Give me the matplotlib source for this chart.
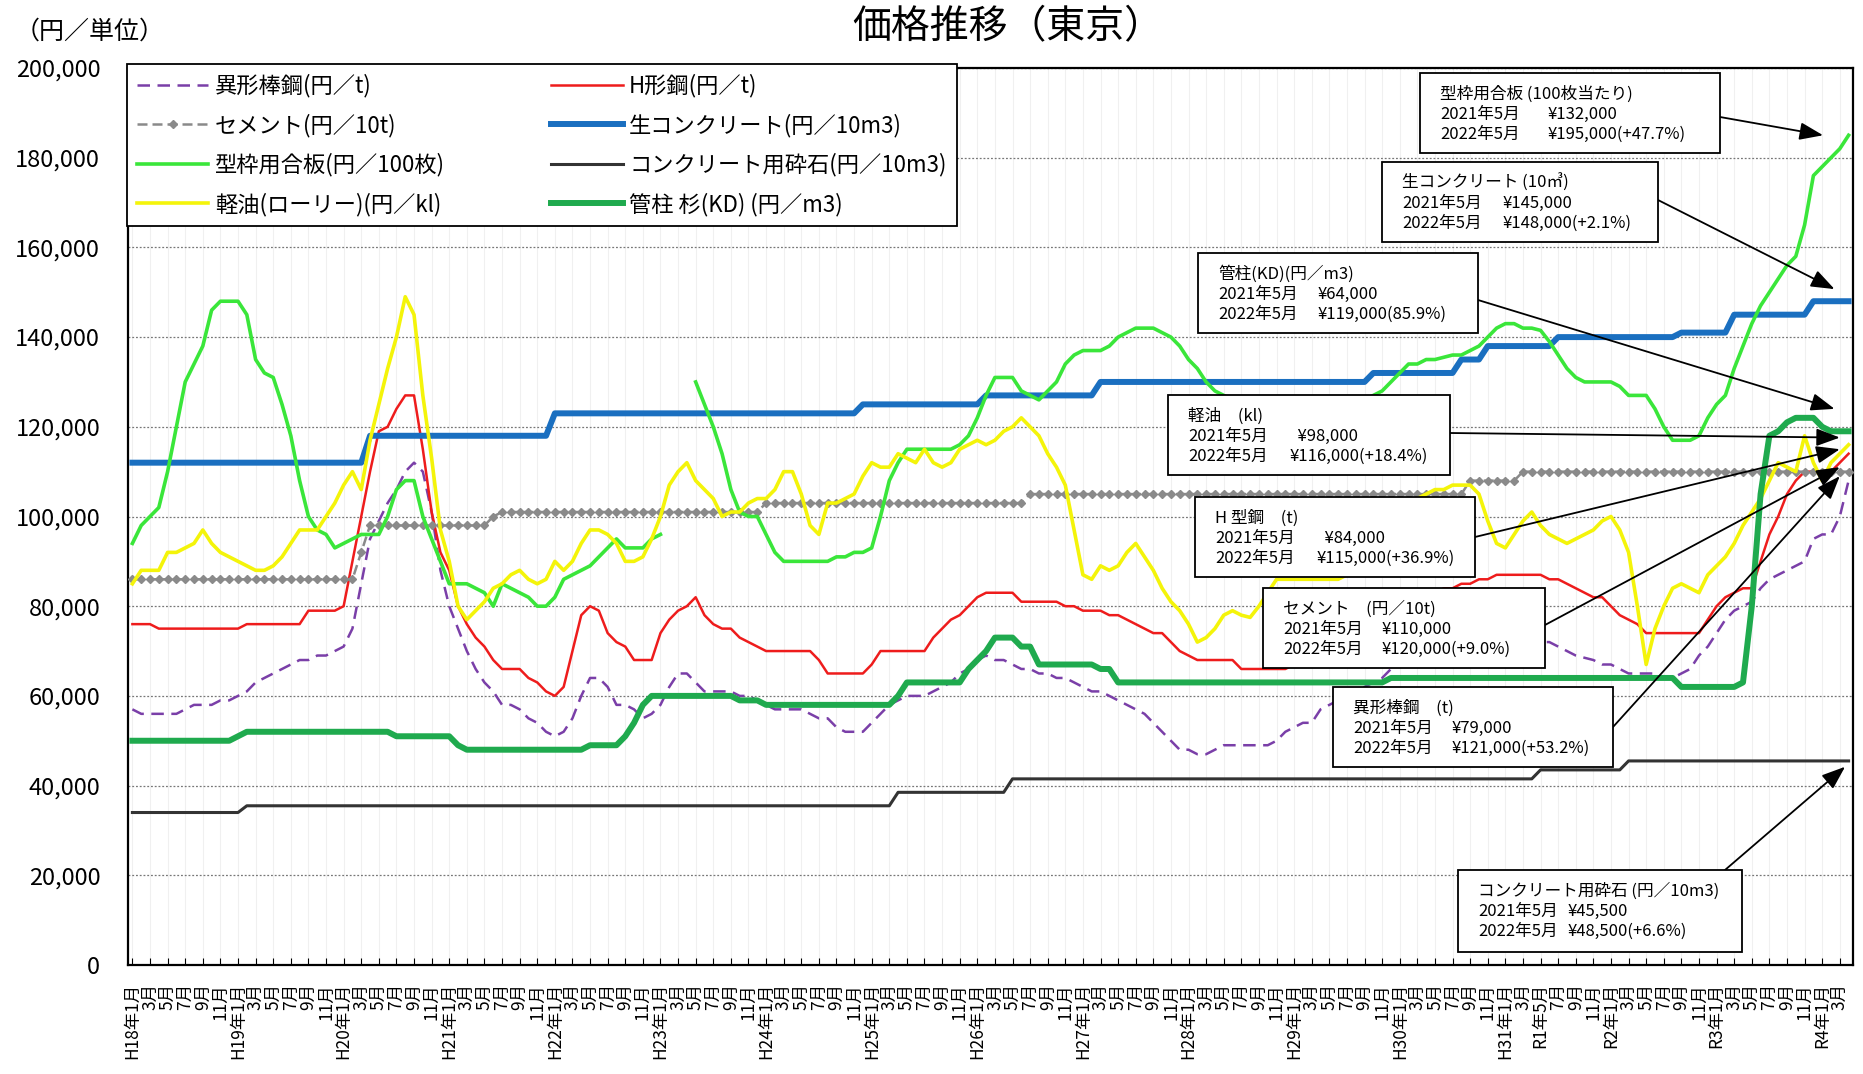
import matplotlib
matplotlib.use('Agg')
import matplotlib.pyplot as plt
import numpy as np
from matplotlib.patches import Rectangle
from matplotlib.lines import Line2D
from matplotlib.ticker import FuncFormatter, FixedLocator

plt.rcParams['font.family'] = ['Noto Sans CJK JP', 'DejaVu Sans']

W, H = 1863, 1074
nan = float('nan')

# ---------------- data (千円) : month index 0 = H18(2006)年1月 ... 195 = R4(2022)年4月
n_months = 196
months = np.arange(n_months)

def month_label(i):
    y = 2006 + i // 12
    m = i % 12 + 1
    if m == 1:
        era = f"H{y - 1988}" if y < 2020 else f"R{y - 2018}"
        return f"{era}年1月"
    if y == 2019 and m == 5:
        return "R1年5月"
    return f"{m}月"

tick_positions = list(range(0, n_months, 2))
tick_labels = [month_label(i) for i in tick_positions]

igata_k = [  # 異形棒鋼
    57, 56, 56, 56, 56, 56, 57, 58, 58, 58, 59, 59,
    60, 61, 63, 64, 65, 66, 67, 68, 68, 69, 69, 70,
    71, 75, 85, 95, 99, 103, 106, 110, 112, 110, 101, 88,
    80, 75, 70, 66, 63, 61, 58, 58, 57, 55, 54, 52,
    51, 52, 55, 60, 64, 64, 62, 58, 58, 57, 55, 56,
    58, 62, 65, 65, 63, 61, 61, 61, 61, 60, 60, 59,
    58, 57, 57, 57, 57, 56, 55, 55, 53, 52, 52, 52,
    54, 56, 58, 59, 60, 60, 60, 61, 62, 63, 65, 66,
    68, 69, 68, 68, 67, 66, 66, 65, 65, 64, 64, 63,
    62, 61, 61, 60, 59, 58, 57, 56, 54, 52, 50, 48,
    48, 47, 47, 48, 49, 49, 49, 49, 49, 49, 50, 52,
    53, 54, 54, 57, 58, 59, 60, 61, 62, 63, 64, 66,
    67, 68, 69, 70, 71, 72, 72, 73, 73, 74, 74, 74,
    74, 74, 73, 73, 72, 72, 71, 70, 69, 68.5, 68, 67,
    67, 66, 65, 65, 65, 65, 64, 64, 65, 66, 69, 71,
    74, 77, 79, 80, 81, 84, 86, 87, 88, 89, 90, 95,
    96, 96, 100, 108]

hkou_k = [  # H形鋼
    76, 76, 76, 75, 75, 75, 75, 75, 75, 75, 75, 75,
    75, 76, 76, 76, 76, 76, 76, 76, 79, 79, 79, 79,
    80, 90, 100, 110, 119, 120, 124, 127, 127, 115, 101, 92,
    88, 80, 76, 73, 71, 68, 66, 66, 66, 64, 63, 61,
    60, 62, 70, 78, 80, 79, 74, 72, 71, 68, 68, 68,
    74, 77, 79, 80, 82, 78, 76, 75, 75, 73, 72, 71,
    70, 70, 70, 70, 70, 70, 68, 65, 65, 65, 65, 65,
    67, 70, 70, 70, 70, 70, 70, 73, 75, 77, 78, 80,
    82, 83, 83, 83, 83, 81, 81, 81, 81, 81, 80, 80,
    79, 79, 79, 78, 78, 77, 76, 75, 74, 74, 72, 70,
    69, 68, 68, 68, 68, 68, 66, 66, 66, 66, 66, 66,
    67, 68, 69, 70, 71, 72, 73, 74, 75, 77, 78, 79,
    80, 81, 82, 83, 83, 84, 84, 85, 85, 86, 86, 87,
    87, 87, 87, 87, 87, 86, 86, 85, 84, 83, 82, 82,
    80, 78, 77, 76, 74, 74, 74, 74, 74, 74, 74, 77,
    80, 82, 83, 84, 84, 90, 96, 100, 105, 108, 110, 110,
    110, 110, 112, 114]

cement_k = [  # セメント
    86, 86, 86, 86, 86, 86, 86, 86, 86, 86, 86, 86,
    86, 86, 86, 86, 86, 86, 86, 86, 86, 86, 86, 86,
    86, 86, 92, 98, 98, 98, 98, 98, 98, 98, 98, 98,
    98, 98, 98, 98, 98, 100, 101, 101, 101, 101, 101, 101,
    101, 101, 101, 101, 101, 101, 101, 101, 101, 101, 101, 101,
    101, 101, 101, 101, 101, 101, 101, 101, 101, 101, 101, 101,
    103, 103, 103, 103, 103, 103, 103, 103, 103, 103, 103, 103,
    103, 103, 103, 103, 103, 103, 103, 103, 103, 103, 103, 103,
    103, 103, 103, 103, 103, 103, 105, 105, 105, 105, 105, 105,
    105, 105, 105, 105, 105, 105, 105, 105, 105, 105, 105, 105,
    105, 105, 105, 105, 105, 105, 105, 105, 105, 105, 105, 105,
    105, 105, 105, 105, 105, 105, 105, 105, 105, 105, 105, 105,
    105, 105, 105, 105, 105, 105, 105, 105, 108, 108, 108, 108,
    108, 108, 110, 110, 110, 110, 110, 110, 110, 110, 110, 110,
    110, 110, 110, 110, 110, 110, 110, 110, 110, 110, 110, 110,
    110, 110, 110, 110, 110, 110, 110, 110, 110, 110, 110, 110,
    110, 110, 110, 110]

namacon_k = [  # 生コンクリート
    112, 112, 112, 112, 112, 112, 112, 112, 112, 112, 112, 112,
    112, 112, 112, 112, 112, 112, 112, 112, 112, 112, 112, 112,
    112, 112, 112, 118, 118, 118, 118, 118, 118, 118, 118, 118,
    118, 118, 118, 118, 118, 118, 118, 118, 118, 118, 118, 118,
    123, 123, 123, 123, 123, 123, 123, 123, 123, 123, 123, 123,
    123, 123, 123, 123, 123, 123, 123, 123, 123, 123, 123, 123,
    123, 123, 123, 123, 123, 123, 123, 123, 123, 123, 123, 125,
    125, 125, 125, 125, 125, 125, 125, 125, 125, 125, 125, 125,
    125, 127, 127, 127, 127, 127, 127, 127, 127, 127, 127, 127,
    127, 127, 130, 130, 130, 130, 130, 130, 130, 130, 130, 130,
    130, 130, 130, 130, 130, 130, 130, 130, 130, 130, 130, 130,
    130, 130, 130, 130, 130, 130, 130, 130, 130, 132, 132, 132,
    132, 132, 132, 132, 132, 132, 132, 135, 135, 135, 138, 138,
    138, 138, 138, 138, 138, 138, 140, 140, 140, 140, 140, 140,
    140, 140, 140, 140, 140, 140, 140, 140, 141, 141, 141, 141,
    141, 141, 145, 145, 145, 145, 145, 145, 145, 145, 145, 148,
    148, 148, 148, 148]

kataban_k = [  # 型枠用合板
    94, 98, 100, 102, 110, 120, 130, 134, 138, 146, 148, 148,
    148, 145, 135, 132, 131, 125, 118, 108, 100, 97, 96, 93,
    94, 95, 96, 96, 96, 100, 106, 108, 108, 100, 95, 90,
    85, 85, 85, 84, 83, 80, 85, 84, 83, 82, 80, 80,
    82, 86, 87, 88, 89, 91, 93, 95, 93, 93, 93, 95,
    96, nan, nan, nan, 130, 125, 120, 114, 106, 101, 100, 100,
    96, 92, 90, 90, 90, 90, 90, 90, 91, 91, 92, 92,
    93, 100, 108, 112, 115, 115, 115, 115, 115, 115, 116, 118,
    122, 127, 131, 131, 131, 128, 127, 126, 128, 130, 134, 136,
    137, 137, 137, 138, 140, 141, 142, 142, 142, 141, 140, 138,
    135, 133, 130, 128, 127, 126, 125, 124, 124, 124, 124, 124,
    124, 124, 124, 124, 124, 125, 125, 126, 126, 127, 128, 130,
    132, 134, 134, 135, 135, 135.5, 136, 136, 137, 138, 140, 142,
    143, 143, 142, 142, 141.5, 139, 136, 133, 131, 130, 130, 130,
    130, 129, 127, 127, 127, 124, 120, 117, 117, 117, 118, 122,
    125, 127, 133, 138, 143, 147, 150, 153, 156, 158, 165, 176,
    178, 180, 182, 185]

saiseki_k = [  # コンクリート用砕石
    34, 34, 34, 34, 34, 34, 34, 34, 34, 34, 34, 34,
    34, 35.5, 35.5, 35.5, 35.5, 35.5, 35.5, 35.5, 35.5, 35.5, 35.5, 35.5,
    35.5, 35.5, 35.5, 35.5, 35.5, 35.5, 35.5, 35.5, 35.5, 35.5, 35.5, 35.5,
    35.5, 35.5, 35.5, 35.5, 35.5, 35.5, 35.5, 35.5, 35.5, 35.5, 35.5, 35.5,
    35.5, 35.5, 35.5, 35.5, 35.5, 35.5, 35.5, 35.5, 35.5, 35.5, 35.5, 35.5,
    35.5, 35.5, 35.5, 35.5, 35.5, 35.5, 35.5, 35.5, 35.5, 35.5, 35.5, 35.5,
    35.5, 35.5, 35.5, 35.5, 35.5, 35.5, 35.5, 35.5, 35.5, 35.5, 35.5, 35.5,
    35.5, 35.5, 35.5, 38.5, 38.5, 38.5, 38.5, 38.5, 38.5, 38.5, 38.5, 38.5,
    38.5, 38.5, 38.5, 38.5, 41.5, 41.5, 41.5, 41.5, 41.5, 41.5, 41.5, 41.5,
    41.5, 41.5, 41.5, 41.5, 41.5, 41.5, 41.5, 41.5, 41.5, 41.5, 41.5, 41.5,
    41.5, 41.5, 41.5, 41.5, 41.5, 41.5, 41.5, 41.5, 41.5, 41.5, 41.5, 41.5,
    41.5, 41.5, 41.5, 41.5, 41.5, 41.5, 41.5, 41.5, 41.5, 41.5, 41.5, 41.5,
    41.5, 41.5, 41.5, 41.5, 41.5, 41.5, 41.5, 41.5, 41.5, 41.5, 41.5, 41.5,
    41.5, 41.5, 41.5, 41.5, 43.5, 43.5, 43.5, 43.5, 43.5, 43.5, 43.5, 43.5,
    43.5, 43.5, 45.5, 45.5, 45.5, 45.5, 45.5, 45.5, 45.5, 45.5, 45.5, 45.5,
    45.5, 45.5, 45.5, 45.5, 45.5, 45.5, 45.5, 45.5, 45.5, 45.5, 45.5, 45.5,
    45.5, 45.5, 45.5, 45.5]

keiyu_k = [  # 軽油
    85, 88, 88, 88, 92, 92, 93, 94, 97, 94, 92, 91,
    90, 89, 88, 88, 89, 91, 94, 97, 97, 97, 100, 103,
    107, 110, 106, 117, 125, 133, 140, 149, 145, 127, 113, 97,
    90, 80, 77, 79, 81, 84, 85, 87, 88, 86, 85, 86,
    90, 88, 90, 94, 97, 97, 96, 94, 90, 90, 91, 95,
    100, 107, 110, 112, 108, 106, 104, 100, 101, 101, 103, 104,
    104, 106, 110, 110, 105, 98, 96, 103, 103, 104, 105, 109,
    112, 111, 111, 114, 113, 112, 115, 112, 111, 112, 115, 116,
    117, 116, 117, 119, 120, 122, 120, 118, 114, 111, 107, 97,
    87, 86, 89, 88, 89, 92, 94, 91, 88, 84, 81, 79,
    76, 72, 73, 75, 78, 79, 78, 77.5, 80, 83, 86, 86,
    86, 86, 86, 86, 86, 86, 87, 88, 90, 93, 96, 99,
    101, 103, 104, 105, 106, 106, 107, 107, 107, 105, 99, 94,
    93, 96, 99, 101, 98, 96, 95, 94, 95, 96, 97, 99,
    100, 97, 92, 80, 67, 75, 80, 84, 85, 84, 83, 87,
    89, 91, 94, 98, 101, 104, 108, 112, 111, 110, 118, 112,
    108, 112, 114, 116]

kanchu_k = [  # 管柱 杉(KD)
    50, 50, 50, 50, 50, 50, 50, 50, 50, 50, 50, 50,
    51, 52, 52, 52, 52, 52, 52, 52, 52, 52, 52, 52,
    52, 52, 52, 52, 52, 52, 51, 51, 51, 51, 51, 51,
    51, 49, 48, 48, 48, 48, 48, 48, 48, 48, 48, 48,
    48, 48, 48, 48, 49, 49, 49, 49, 51, 54, 58, 60,
    60, 60, 60, 60, 60, 60, 60, 60, 60, 59, 59, 59,
    58, 58, 58, 58, 58, 58, 58, 58, 58, 58, 58, 58,
    58, 58, 58, 60, 63, 63, 63, 63, 63, 63, 63, 66,
    68, 70, 73, 73, 73, 71, 71, 67, 67, 67, 67, 67,
    67, 67, 66, 66, 63, 63, 63, 63, 63, 63, 63, 63,
    63, 63, 63, 63, 63, 63, 63, 63, 63, 63, 63, 63,
    63, 63, 63, 63, 63, 63, 63, 63, 63, 63, 63, 64,
    64, 64, 64, 64, 64, 64, 64, 64, 64, 64, 64, 64,
    64, 64, 64, 64, 64, 64, 64, 64, 64, 64, 64, 64,
    64, 64, 64, 64, 64, 64, 64, 64, 62, 62, 62, 62,
    62, 62, 62, 63, 80, 105, 118, 119, 121, 122, 122, 122,
    120, 119, 119, 119]

legend_labels = {
    'igata': '異形棒鋼(円／t)',
    'hkou': 'H形鋼(円／t)',
    'cement': 'セメント(円／10t)',
    'namacon': '生コンクリート(円／10m3)',
    'kataban': '型枠用合板(円／100枚)',
    'saiseki': 'コンクリート用砕石(円／10m3)',
    'keiyu': '軽油(ローリー)(円／kl)',
    'kanchu': '管柱 杉(KD) (円／m3)',
}

# annotation boxes: (box x0,y0,x1,y1 px, title, rows, value-x px, arrow tail px, arrow tip (month, 千円))
notes = [
    ((1420, 73, 1720, 153), '型枠用合板 (100枚当たり)',
     [('2021年5月', '¥132,000'), ('2022年5月', '¥195,000(+47.7%)')], 1548, (1720, 117), (192.1, 185)),
    ((1382, 162, 1658, 242), '生コンクリート (10㎥)',
     [('2021年5月', '¥145,000'), ('2022年5月', '¥148,000(+2.1%)')], 1503, (1658, 200), (193.4, 150.7)),
    ((1198, 253, 1478, 333), '管柱(KD)(円／m3)',
     [('2021年5月', '¥64,000'), ('2022年5月', '¥119,000(85.9%)')], 1318, (1478, 300), (193.4, 124)),
    ((1168, 395, 1450, 475), '軽油　(kl)',
     [('2021年5月', '  ¥98,000'), ('2022年5月', '¥116,000(+18.4%)')], 1290, (1450, 433), (194, 117.6)),
    ((1195, 497, 1475, 577), 'H 型鋼　(t)',
     [('2021年5月', '  ¥84,000'), ('2022年5月', '¥115,000(+36.9%)')], 1317, (1475, 537), (194, 115)),
    ((1263, 588, 1545, 668), 'セメント　(円／10t)',
     [('2021年5月', '¥110,000'), ('2022年5月', '¥120,000(+9.0%)')], 1382, (1545, 625), (194, 111)),
    ((1333, 687, 1613, 767), '異形棒鋼　(t)',
     [('2021年5月', '¥79,000'), ('2022年5月', '¥121,000(+53.2%)')], 1452, (1613, 727), (194, 109)),
    ((1458, 870, 1742, 952), 'コンクリート用砕石 (円／10m3)',
     [('2021年5月', '¥45,500'), ('2022年5月', '¥48,500(+6.6%)')], 1568, (1725, 870), (194.6, 44.2)),
]

# ---------------- figure
fig = plt.figure(figsize=(W / 100, H / 100), dpi=100)
ax = fig.add_axes([128 / W, 1 - 965 / H, (1853 - 128) / W, (965 - 68) / H])

def fp(x, y):
    return (x / W, 1 - y / H)

ax.plot(months, np.array(igata_k, float), color='#7a3fa8', lw=1.8, ls=(0, (5, 3)), zorder=3)
ax.plot(months, np.array(hkou_k, float), color='#ee1c1c', lw=1.8, zorder=3)
ax.plot(months, np.array(cement_k, float), color='#8a8a8a', lw=1.8, ls=(0, (4, 2)),
        marker='D', ms=4.5, mfc='#8a8a8a', mec='#8a8a8a', zorder=3)
ax.plot(months, np.array(namacon_k, float), color='#1a6fc0', lw=4.3, zorder=3)
ax.plot(months, np.array(kataban_k, float), color='#3ae63a', lw=2.6, zorder=3)
ax.plot(months, np.array(saiseki_k, float), color='#333333', lw=2.2, zorder=3)
ax.plot(months, np.array(keiyu_k, float), color='#f4f40a', lw=2.6, zorder=3)
ax.plot(months, np.array(kanchu_k, float), color='#1faa4e', lw=4.3, zorder=3)

ax.set_xlim(-0.5, n_months - 0.5)
ax.set_ylim(0, 200)
ax.yaxis.set_major_locator(FixedLocator(np.arange(0, 201, 20)))
ax.yaxis.set_major_formatter(FuncFormatter(lambda v, p: f"{v * 1000:,.0f}"))
ax.tick_params(axis='y', length=0, pad=20, labelsize=17)
ax.set_xticks(tick_positions)
ax.set_xticklabels(tick_labels, rotation=90, fontsize=12.5)
ax.tick_params(axis='x', direction='in', length=5, pad=13, width=0.8)

ax.grid(axis='y', color='#777777', lw=0.9, ls=(0, (1.5, 1.5)), zorder=1)
ax.grid(axis='x', color='#f0f0f0', lw=0.8, zorder=0)
for s in ax.spines.values():
    s.set_linewidth(1.6)
    s.set_color('black')

# legend
h = {
    'igata': Line2D([], [], color='#7a3fa8', lw=1.8, ls=(0, (5, 3))),
    'hkou': Line2D([], [], color='#ee1c1c', lw=1.8),
    'cement': Line2D([], [], color='#8a8a8a', lw=1.8, ls=(0, (4, 2)), marker='D', ms=4.5),
    'namacon': Line2D([], [], color='#1a6fc0', lw=4.3),
    'kataban': Line2D([], [], color='#3ae63a', lw=2.6),
    'saiseki': Line2D([], [], color='#333333', lw=2.2),
    'keiyu': Line2D([], [], color='#f4f40a', lw=2.6),
    'kanchu': Line2D([], [], color='#1faa4e', lw=4.3),
}
order = ['igata', 'cement', 'kataban', 'keiyu', 'hkou', 'namacon', 'saiseki', 'kanchu']
leg = ax.legend([h[k] for k in order], [legend_labels[k] for k in order], ncol=2,
                loc='upper left', bbox_to_anchor=fp(127, 64), bbox_transform=fig.transFigure,
                fontsize=16, frameon=True, fancybox=False, edgecolor='black', framealpha=1,
                handlelength=3.2, handletextpad=0.3, columnspacing=4.8, labelspacing=0.71,
                borderpad=0.45, borderaxespad=0)
leg.get_frame().set_linewidth(1.3)
leg.set_zorder(10)

# annotations
for (x0, y0, x1, y1), title, rows, valx, tail, tip in notes:
    fig.add_artist(Rectangle(fp(x0, y1), (x1 - x0) / W, (y1 - y0) / H, transform=fig.transFigure,
                             facecolor='white', edgecolor='black', lw=1.3, zorder=20))
    tx = x0 + 20
    fig.text(*fp(tx, y0 + 21), title, fontsize=12, va='center', ha='left', zorder=21)
    for k, (d, v) in enumerate(rows):
        yy = y0 + 41 + 20 * k
        fig.text(*fp(tx, yy), d, fontsize=12, va='center', ha='left', zorder=21)
        fig.text(*fp(valx, yy), v, fontsize=12, va='center', ha='left', zorder=21)
    ax.annotate('', xy=tip, xycoords='data', xytext=fp(*tail), textcoords='figure fraction',
                arrowprops=dict(arrowstyle='-|>,head_length=0.8,head_width=0.3', color='black',
                                lw=1.3, mutation_scale=18, shrinkA=0, shrinkB=0),
                annotation_clip=False, zorder=15)

fig.text(*fp(90, 32), '（円／単位）', fontsize=18, ha='center', va='center')
fig.text(*fp(1008, 27), '価格推移（東京）', fontsize=28, ha='center', va='center')

fig.savefig('out.png', dpi=100, facecolor='white')
